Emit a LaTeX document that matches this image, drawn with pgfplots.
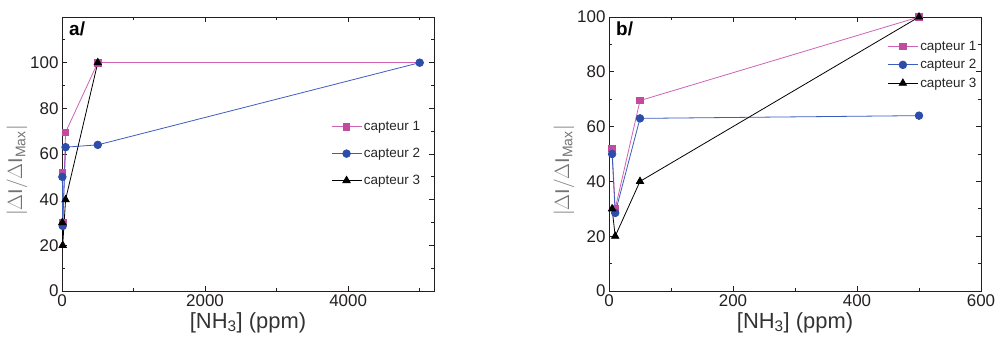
\documentclass[border=0pt]{standalone}
\usepackage{pgfplots}
\pgfplotsset{compat=1.18}
\usepackage{fontspec}
\setmainfont{Liberation Sans}
\definecolor{cpink}{HTML}{C24A9F}
\definecolor{cpinkl}{HTML}{D062B4}
\definecolor{cblue}{HTML}{2C4DAA}
\definecolor{cbluel}{HTML}{3C5DC0}
\definecolor{ctick}{HTML}{231F20}
\pgfplotsset{
  common/.style={
    scale only axis, width=372bp, height=274bp,
    tick align=inside, major tick length=5bp, minor tick length=3bp,
    axis line style={ctick, line width=0.9bp},
    every tick/.style={ctick, line width=0.8bp},
    tick label style={font=\fontsize{17}{19}\selectfont, text=ctick},
    /pgf/number format/assume math mode=true,
    /pgf/number format/1000 sep={},
    scaled ticks=false,
    ymin=0,
    ytick={0,20,...,100},
    xlabel={[NH\textsubscript{3}] (ppm)},
    xlabel style={font=\fontsize{22}{24}\selectfont, text=black!80, yshift=1bp},
    ylabel={$|\Delta\mathrm{I}/\Delta\mathrm{I}_{\mbox{\fontsize{14}{16}\selectfont Max}}|$},
    ylabel style={font=\fontsize{20}{22}\selectfont, text=black!55, at={(ticklabel cs:0.44)}, yshift=-4bp},
    legend cell align=left,
    legend style={draw=none, fill=none, font=\fontsize{13.5}{15}\selectfont, text=black!85,
      /pgfplots/legend image code/.code={\draw[mark repeat=2,mark phase=2,##1] plot coordinates {(0bp,0bp) (15bp,0bp) (30bp,0bp)};}},
  },
  s1/.style={cpinkl, line width=0.8bp, mark=square*, mark size=3.3bp, mark options={cpink, fill=cpink, solid}},
  s2/.style={cbluel, line width=0.8bp, mark=*, mark size=3.8bp, mark options={cblue, fill=cblue, solid}},
  s3/.style={black, line width=0.8bp, mark=triangle*, mark size=4.2bp, mark options={black, fill=black, solid}},
}
\begin{document}
\begin{tikzpicture}
\path[use as bounding box] (-62bp,-56bp) rectangle (935bp,291bp);
\begin{axis}[common, at={(0bp,0bp)}, anchor=south west,
  xmin=0, xmax=5200, ymax=120,
  xtick={0,2000,4000}, minor xtick={1000,3000,5000},
  minor ytick={10,30,...,110},
  legend style={at={(0.715,0.634)}, anchor=north west, row sep=12bp}]
\addplot[cpinkl, line width=0.8bp, forget plot] coordinates {(500,100) (5000,100)};
\addplot[s1] coordinates {(5,52) (10,30) (50,69.5) (500,100)};
\addlegendentry{capteur 1}
\addplot[s2] coordinates {(5,50) (10,28.5) (50,63) (500,64) (5000,100)};
\addlegendentry{capteur 2}
\addplot[s3] coordinates {(5,30) (10,20) (50,40) (500,100)};
\addlegendentry{capteur 3}
\node[anchor=north west, font=\bfseries\fontsize{19}{21}\selectfont] at (rel axis cs:0.01,0.995) {a/};
\end{axis}
\begin{axis}[common, at={(547bp,0bp)}, anchor=south west,
  xmin=0, xmax=600, ymax=100,
  xtick={0,200,400,600}, minor xtick={100,300,500},
  minor ytick={10,30,...,90},
  legend style={at={(0.74,0.927)}, anchor=north west, row sep=3.5bp}]
\addplot[s1] coordinates {(5,52) (10,30) (50,69.5) (500,100)};
\addlegendentry{capteur 1}
\addplot[s2] coordinates {(5,50) (10,28.5) (50,63) (500,64)};
\addlegendentry{capteur 2}
\addplot[s3] coordinates {(5,30) (10,20) (50,40) (500,100)};
\addlegendentry{capteur 3}
\node[anchor=north west, font=\bfseries\fontsize{19}{21}\selectfont] at (rel axis cs:0.01,0.995) {b/};
\end{axis}
\end{tikzpicture}
\end{document}
